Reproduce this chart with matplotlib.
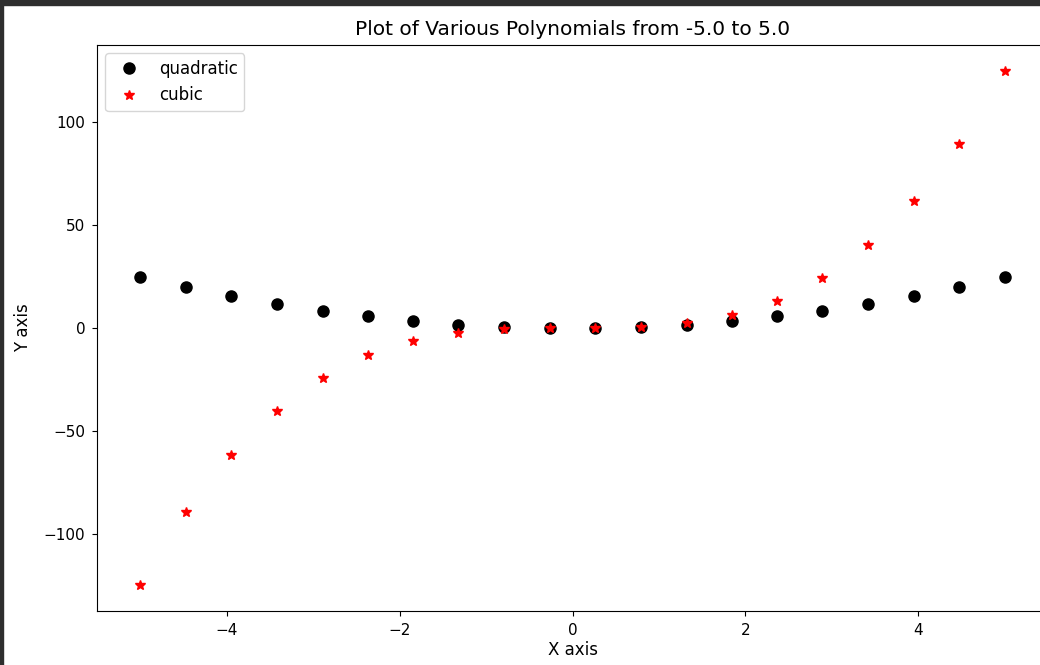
import matplotlib.pyplot as plt
from matplotlib.patches import Rectangle

# values
x_vals = [-5.0, -4.47, -3.95, -3.42, -2.89, -2.37, -1.84, -1.32, -0.79, -0.26,
          0.26, 0.79, 1.32, 1.84, 2.37, 2.89, 3.42, 3.95, 4.47, 5.0]
quadratic = [25.0, 20.0, 15.6, 11.7, 8.4, 5.6, 3.4, 1.7, 0.6, 0.1,
             0.1, 0.6, 1.7, 3.4, 5.6, 8.4, 11.7, 15.6, 20.0, 25.0]
cubic = [-125.0, -89.5, -61.5, -40.1, -24.3, -13.3, -6.3, -2.3, -0.5, -0.02,
         0.02, 0.5, 2.3, 6.3, 13.3, 24.3, 40.1, 61.5, 89.5, 125.0]

fig = plt.figure(figsize=(10.4, 6.65), dpi=100)
W, H = 1040, 665
# axes runs past the right edge, the reference is a cropped screenshot
ax = fig.add_axes([97 / W, 1 - 611 / H, (1048 - 97) / W, (611 - 45) / H])

ax.plot(x_vals, quadratic, 'ko', markersize=8, label='quadratic')
ax.plot(x_vals, cubic, 'r*', markersize=7, label='cubic')

ax.set_title('Plot of Various Polynomials from -5.0 to 5.0', fontsize=14.5, pad=7)
ax.set_xlabel('X axis', fontsize=12, labelpad=2)
ax.set_ylabel('Y axis', fontsize=12, labelpad=8)
ax.tick_params(labelsize=11, pad=5)
ax.legend(loc='upper left', fontsize=12)

# dark screenshot frame on top and left
fig.patches.append(Rectangle((0, 1 - 5 / H), 1, 5 / H, transform=fig.transFigure,
                             color='#2e2e2e', zorder=10))
fig.patches.append(Rectangle((0, 0), 3 / W, 1, transform=fig.transFigure,
                             color='#2e2e2e', zorder=10))

fig.savefig('out.png', dpi=100)
